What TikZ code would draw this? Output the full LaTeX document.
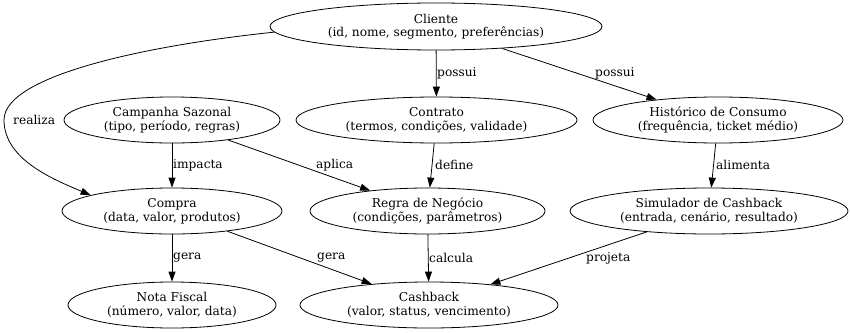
\documentclass[tikz,border=0pt]{standalone}
\usepackage{fontspec}
\setmainfont{DejaVu Serif}
\usetikzlibrary{arrows.meta,shapes.geometric}
\begin{document}
\begin{tikzpicture}[x=1pt,y=-1pt,
  entity/.style={draw,ellipse,inner sep=0pt,align=center,line width=0.8pt,
    font=\fontsize{12.2}{13.5}\selectfont},
  lbl/.style={inner sep=0pt,anchor=west,font=\fontsize{12.2}{13.5}\selectfont},
  rel/.style={line width=0.8pt,-{Triangle[length=10pt,width=7pt]}}]
\useasboundingbox (0,0) rectangle (850,332);
% entities
\node[entity,minimum width=332pt,minimum height=47pt] (cli) at (436,26.5) {Cliente\\(id, nome, segmento, preferências)};
\node[entity,minimum width=216pt,minimum height=46pt] (camp) at (172,120) {Campanha Sazonal\\(tipo, período, regras)};
\node[entity,minimum width=281pt,minimum height=46pt] (cont) at (436.5,120) {Contrato\\(termos, condições, validade)};
\node[entity,minimum width=250pt,minimum height=46pt] (hist) at (718,120) {Histórico de Consumo\\(frequência, ticket médio)};
\node[entity,minimum width=220pt,minimum height=46pt] (cmp) at (172,211) {Compra\\(data, valor, produtos)};
\node[entity,minimum width=235pt,minimum height=46pt] (regra) at (427.5,211) {Regra de Negócio\\(condições, parâmetros)};
\node[entity,minimum width=278pt,minimum height=46pt] (sim) at (709,211) {Simulador de Cashback\\(entrada, cenário, resultado)};
\node[entity,minimum width=208pt,minimum height=46pt] (nf) at (172,305) {Nota Fiscal\\(número, valor, data)};
\node[entity,minimum width=258pt,minimum height=46pt] (cb) at (429,305) {Cashback\\(valor, status, vencimento)};
% relationships
\draw[rel] (cli.182) .. controls (150,45) and (4,75) .. (4,120)
  .. controls (4,160) and (55,180) .. (cmp.169);
\draw[rel] (cli) -- (cont);
\draw[rel] (cli) -- (hist);
\draw[rel] (camp) -- (cmp);
\draw[rel] (camp) -- (regra);
\draw[rel] (cont) -- (regra);
\draw[rel] (hist) -- (sim);
\draw[rel] (cmp) -- (nf);
\draw[rel] (cmp) -- (cb);
\draw[rel] (regra) -- (cb);
\draw[rel] (sim) -- (cb);
% relationship labels
\node[lbl] (lrealiza) at (13,120) {realiza};
\node[lbl] (lpossui1) at (437,73) {possui};
\node[lbl] (lpossui2) at (595,73) {possui};
\node[lbl] (limpacta) at (173,165) {impacta};
\node[lbl] (laplica) at (316,165) {aplica};
\node[lbl] (ldefine) at (435,165) {define};
\node[lbl] (lalimenta) at (716,165) {alimenta};
\node[lbl] (lgera1) at (173,258) {gera};
\node[lbl] (lgera2) at (317,258) {gera};
\node[lbl] (lcalcula) at (429,258) {calcula};
\node[lbl] (lprojeta) at (586,258) {projeta};
\end{tikzpicture}
\end{document}
